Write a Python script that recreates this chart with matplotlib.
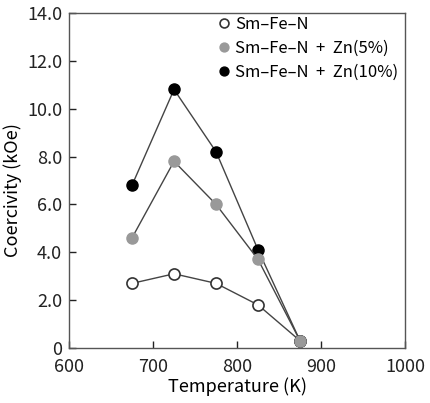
import matplotlib
matplotlib.use("Agg")
import matplotlib.pyplot as plt

plt.rcParams['font.family'] = ['Noto Sans CJK JP', 'DejaVu Sans']

# データ
temperature = [675, 725, 775, 825, 875]
smfen = [2.7, 3.1, 2.7, 1.8, 0.3]
zn5 = [4.6, 7.8, 6.0, 3.7, 0.3]
zn10 = [6.8, 10.8, 8.2, 4.1, 0.3]
yticks = [0, 2, 4, 6, 8, 10, 12, 14]
ytick_labels = ["0", "2.0", "4.0", "6.0", "8.0", "10.0", "12.0", "14.0"]
xticks = [600, 700, 800, 900, 1000]

fig = plt.figure(figsize=(4.3, 4.03), dpi=100)
ax = fig.add_axes([0.1605, 0.1365, 0.7815, 0.8315])

lc = "#444444"
ax.plot(temperature, zn10, color=lc, lw=1, marker="o", ms=8, mfc="black", mec="black",
        label="Sm\u2013Fe\u2013N  +  Zn(10%)", zorder=3)
ax.plot(temperature, zn5, color=lc, lw=1, marker="o", ms=8, mfc="#999999", mec="#999999",
        label="Sm\u2013Fe\u2013N  +  Zn(5%)", zorder=4)
ax.plot(temperature, smfen, color=lc, lw=1, marker="o", ms=8, mfc="white", mec="#333333",
        mew=1.2, label="Sm\u2013Fe\u2013N", zorder=2)

ax.set_xlim(600, 1000)
ax.set_ylim(0, 14)
ax.set_xticks(xticks)
ax.set_yticks(yticks)
ax.set_yticklabels(ytick_labels)
ax.tick_params(direction="in", length=5, width=1, labelsize=13, colors="#222222")
ax.tick_params(axis="x", pad=7)
ax.tick_params(axis="y", pad=5)
for s in ax.spines.values():
    s.set_color("#555555")
    s.set_linewidth(1)

ax.set_xlabel("Temperature (K)", fontsize=13, labelpad=1)
ax.set_ylabel("Coercivity (kOe)", fontsize=13)
ax.yaxis.set_label_coords(-0.14, 0.47)

h, l = ax.get_legend_handles_labels()
leg = ax.legend([h[2], h[1], h[0]], [l[2], l[1], l[0]], loc="upper left",
                bbox_to_anchor=(0.405, 1.035), frameon=False, fontsize=12,
                handlelength=0.5, handletextpad=0.4, labelspacing=0.42, markerscale=0.8)
for lh in leg.legend_handles:
    lh.set_linestyle("none")

fig.savefig("out.png", dpi=100)
